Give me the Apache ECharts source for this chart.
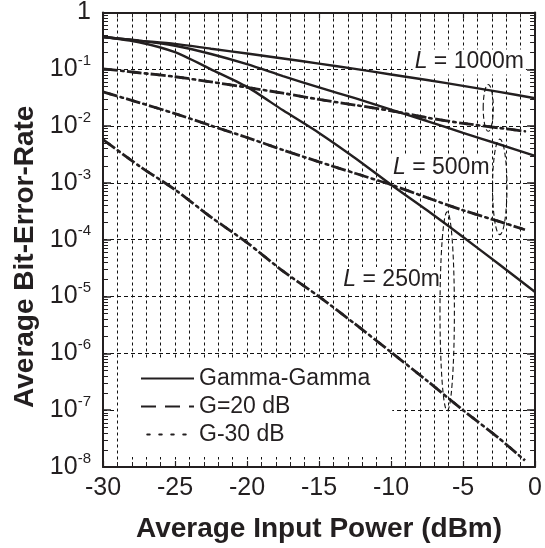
<!DOCTYPE html>
<html><head><meta charset="utf-8">
<script src="https://cdn.jsdelivr.net/npm/echarts@6/dist/echarts.min.js"></script>
<style>html,body{margin:0;padding:0;background:#fff}#c{width:545px;height:548px}</style>
</head><body><div id="c"></div>
<script>
// ---- data ----
const powerGG = [-30, -27.5, -25, -22.5, -20, -17.5, -15, -12.5, -10, -7.5, -5, -2.5, 0];
const powerAmp = [-30, -27.5, -25, -22.5, -20, -17.5, -15, -12.5, -10, -7.5, -5, -2.5, -0.7];
const berGG1000 = [3.7e-1, 3.2e-1, 2.8e-1, 2.3e-1, 1.9e-1, 1.55e-1, 1.26e-1, 1.02e-1, 8.1e-2, 6.5e-2, 5.1e-2, 4.0e-2, 3.1e-2];
const berGG500  = [3.7e-1, 3.2e-1, 2.6e-1, 1.86e-1, 1.23e-1, 7.6e-2, 4.8e-2, 3.1e-2, 1.95e-2, 1.23e-2, 7.6e-3, 4.8e-3, 3.0e-3];
const berGG250  = [3.7e-1, 3.0e-1, 2.0e-1, 1.0e-1, 4.9e-2, 1.9e-2, 7.6e-3, 2.75e-3, 9.3e-4, 3.3e-4, 1.12e-4, 3.7e-5, 1.2e-5];
const berG20_1000 = [1.02e-1, 8.7e-2, 7.4e-2, 6.0e-2, 4.8e-2, 3.8e-2, 2.95e-2, 2.35e-2, 1.86e-2, 1.41e-2, 1.12e-2, 9.3e-3, 8.1e-3];
const berG20_500  = [4.0e-2, 2.6e-2, 1.66e-2, 1.02e-2, 6.3e-3, 3.8e-3, 2.35e-3, 1.48e-3, 9.3e-4, 5.5e-4, 3.3e-4, 2.1e-4, 1.5e-4];
const berG20_250  = [5.8e-3, 2.0e-3, 7.6e-4, 2.5e-4, 8.9e-5, 2.8e-5, 1.0e-5, 3.3e-6, 1.05e-6, 3.3e-7, 1.0e-7, 3.2e-8, 1.3e-8];
const berG30_1000 = berG20_1000;
const berG30_500  = berG20_500;
const berG30_250  = berG20_250;
const seriesNames = ['Gamma-Gamma', 'G=20 dB', 'G-30 dB'];
const xTickLabels = [-30, -25, -20, -15, -10, -5, 0];
const yMin = 1e-8, yMax = 1;
const distanceLabels = ['1000m', '500m', '250m'];
const labelAnchorX = [-8.5, -10.0, -13.45];
const labelAnchorY = [1.35e-1, 1.86e-3, 2.0e-5];
const ellipseX = [[-3.6, -2.9], [-2.95, -1.95], [-6.6, -5.6]];
const ellipseY = [[5.4e-2, 8.1e-3], [5.9e-3, 1.23e-4], [3.1e-4, 9.8e-8]];

const INK = '#231f20';
const FONT = '"Liberation Sans", Arial, Helvetica, sans-serif';
const zip = (xs, ys) => xs.map((x, i) => [x, ys[i]]);

const chart = echarts.init(document.getElementById('c'), null, {renderer: 'canvas'});

function lineSeries(name, xs, ys, style) {
  return {
    name, type: 'line', data: zip(xs, ys), showSymbol: false, symbol: 'none',
    smooth: 0.25, xAxisIndex: 0, yAxisIndex: 0, z: 3,
    lineStyle: Object.assign({color: INK}, style), animation: false
  };
}
const solid = {width: 2.4, type: 'solid'};
const dashed = {width: 2.8, type: [15, 9]};
const dotted = {width: 2.6, type: [2.5, 9.5], dashOffset: 5.75, cap: 'round'};

const axisLineStyle = {color: INK, width: 2};
const gridLine = {color: '#111', width: 1, type: [3, 3]};
const baseY = {
  type: 'log', logBase: 10, min: yMin, max: yMax, splitNumber: 8,
  axisLine: {show: true, onZero: false, lineStyle: axisLineStyle},
  axisTick: {show: true, inside: true, length: 8, lineStyle: {color: INK, width: 1.5}},
  minorTick: {show: true, splitNumber: 9, length: 5, lineStyle: {color: INK, width: 1}},
};
const baseX = {
  type: 'value', min: -30, max: 0, interval: 5,
  axisLine: {show: true, onZero: false, lineStyle: axisLineStyle},
  axisTick: {show: true, inside: true, length: 6, lineStyle: {color: INK, width: 1.2}},
  minorTick: {show: true, splitNumber: 5, length: 5, lineStyle: {color: INK, width: 1}},
};

chart.setOption({
  animation: false,
  backgroundColor: '#fff',
  textStyle: {fontFamily: FONT},
  grid: {left: 103, top: 10, right: 7, bottom: 78, containLabel: false},
  xAxis: [
    Object.assign({}, baseX, {
      position: 'bottom',
      name: 'Average Input Power (dBm)', nameLocation: 'middle', nameGap: 48,
      nameTextStyle: {fontSize: 28, fontWeight: 'bold', color: INK, fontFamily: FONT},
      axisLabel: {fontSize: 25, color: INK, margin: 9, fontFamily: FONT,
        formatter: v => xTickLabels.includes(v) ? String(v) : ''},
      splitLine: {show: true, lineStyle: gridLine},
      minorSplitLine: {show: true, lineStyle: gridLine}
    }),
    Object.assign({}, baseX, {position: 'top', axisLabel: {show: false}, splitLine: {show: false}})
  ],
  yAxis: [
    Object.assign({}, baseY, {
      position: 'left',
      name: 'Average Bit-Error-Rate', nameLocation: 'middle', nameGap: 64,
      nameTextStyle: {fontSize: 28, fontWeight: 'bold', color: INK, fontFamily: FONT, padding: [0, 34, 0, 0]},
      splitLine: {show: true, lineStyle: {color: '#111', width: 1, type: [4, 3]}},
      axisLabel: {
        margin: 12, color: INK, fontFamily: FONT,
        formatter: v => {
          const e = Math.round(Math.log10(v));
          return e === 0 ? '{b|1}' : '{b|10}{s|' + e + '}';
        },
        rich: {
          b: {fontSize: 25, lineHeight: 32, color: INK, fontFamily: FONT},
          s: {fontSize: 15, lineHeight: 15, verticalAlign: 'top', color: INK, fontFamily: FONT}
        }
      }
    }),
    Object.assign({}, baseY, {position: 'right', axisLabel: {show: false}, splitLine: {show: false}})
  ],
  legend: {
    data: seriesNames, orient: 'vertical', left: 118, top: 358,
    padding: [9, 22, 11, 22], backgroundColor: '#fff', borderWidth: 0,
    itemWidth: 53, itemHeight: 14, itemGap: 5,
    itemStyle: {opacity: 0},
    textStyle: {fontSize: 23, color: INK, lineHeight: 23, fontFamily: FONT},
    selectedMode: false, z: 5
  },
  series: [
    lineSeries(seriesNames[0], powerGG, berGG1000, solid),
    lineSeries(seriesNames[0], powerGG, berGG500, solid),
    lineSeries(seriesNames[0], powerGG, berGG250, solid),
    lineSeries(seriesNames[1], powerAmp, berG20_1000, dashed),
    lineSeries(seriesNames[1], powerAmp, berG20_500, dashed),
    lineSeries(seriesNames[1], powerAmp, berG20_250, dashed),
    lineSeries(seriesNames[2], powerAmp, berG30_1000, dotted),
    lineSeries(seriesNames[2], powerAmp, berG30_500, dotted),
    lineSeries(seriesNames[2], powerAmp, berG30_250, dotted)
  ]
});

// annotations positioned through the chart's own coordinate conversion
const toPx = (x, y) => chart.convertToPixel({xAxisIndex: 0, yAxisIndex: 0}, [x, y]);
const graphics = [];
ellipseX.forEach((xr, i) => {
  const p0 = toPx(xr[0], ellipseY[i][0]);
  const p1 = toPx(xr[1], ellipseY[i][1]);
  graphics.push({
    type: 'ellipse', z: 4,
    shape: {cx: (p0[0] + p1[0]) / 2, cy: (p0[1] + p1[1]) / 2,
            rx: Math.abs(p1[0] - p0[0]) / 2, ry: Math.abs(p1[1] - p0[1]) / 2},
    style: {fill: 'none', stroke: '#111', lineWidth: 1.1, lineDash: [5, 3]}
  });
});
distanceLabels.forEach((t, i) => {
  const p = toPx(labelAnchorX[i], labelAnchorY[i]);
  graphics.push({
    type: 'text', z: 1, x: p[0], y: p[1],
    style: {
      text: '{i|L} = ' + t, fill: INK, fontSize: 23, fontFamily: FONT,
      align: 'left', verticalAlign: 'middle', backgroundColor: '#fff', padding: [1, 2],
      rich: {i: {fontStyle: 'italic', fontSize: 23, fontFamily: FONT, fill: INK}}
    }
  });
});
chart.setOption({graphic: graphics});
</script></body></html>
